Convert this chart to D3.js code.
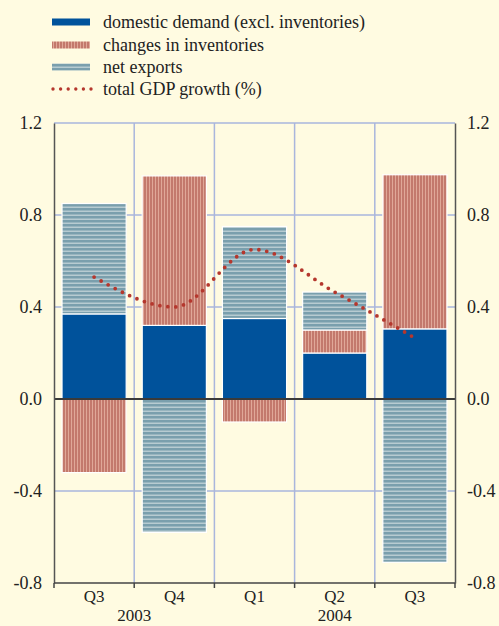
<!DOCTYPE html>
<html><head><meta charset="utf-8">
<script src="https://cdn.jsdelivr.net/npm/d3@7"></script>
<style>
html,body{margin:0;padding:0;background:#fffbe1;}
svg{display:block;font-family:"Liberation Serif","Times New Roman",serif;}
</style></head>
<body>
<svg id="c" width="499" height="626"></svg>
<script>
const quarters = ["Q3","Q4","Q1","Q2","Q3"];
const years = [{label:"2003", at:0.5},{label:"2004", at:3}];
const domestic = [0.37, 0.32, 0.35, 0.20, 0.305];
const inventories = [-0.32, 0.65, -0.10, 0.10, 0.67];
const netExports = [0.48, -0.58, 0.40, 0.165, -0.71];
const gdp = [0.53, 0.40, 0.65, 0.465, 0.265];
const yTicks = [-0.8, -0.4, 0.0, 0.4, 0.8, 1.2];
const legendLabels = ["domestic demand (excl. inventories)","changes in inventories","net exports","total GDP growth (%)"];

const FS = 18;
const svg = d3.select("#c");
const W=499,H=626;
const m = {l:54, r:44, t:123, b:43};
const x = d3.scaleBand().domain(d3.range(quarters.length)).range([m.l, W-m.r]).paddingInner(0.2).paddingOuter(0.1);
const y = d3.scaleLinear().domain([-0.8,1.2]).range([H-m.b, m.t]);
const fmt = v => d3.format(".1f")(v).replace("\u2212","-");

const defs = svg.append("defs");
const pInv = defs.append("pattern").attr("id","inv").attr("patternUnits","userSpaceOnUse").attr("width",3).attr("height",10);
pInv.append("rect").attr("width",3).attr("height",10).attr("fill","#e0a898");
pInv.append("rect").attr("width",2).attr("height",10).attr("fill","#c3796c");
const pNx = defs.append("pattern").attr("id","nx").attr("patternUnits","userSpaceOnUse").attr("width",10).attr("height",4);
pNx.append("rect").attr("width",10).attr("height",4).attr("fill","#b7cbd1");
pNx.append("rect").attr("width",10).attr("height",2.5).attr("fill","#7a9fad");

const colors = {dom:"#00529b", inv:"url(#inv)", nx:"url(#nx)"};

// grid
const grid = svg.append("g");
grid.append("line").attr("x1",m.l).attr("x2",W-m.r).attr("y1",y(1.2)).attr("y2",y(1.2)).attr("stroke","#a9b6dc").attr("stroke-width",1.5);
[0.8,0.4,-0.4].forEach(v=>{
  grid.append("line").attr("x1",m.l).attr("x2",W-m.r).attr("y1",y(v)).attr("y2",y(v)).attr("stroke","#a9b6dc").attr("stroke-width",1.5);
});
const step = x.step();
const bounds = d3.range(1,quarters.length).map(i=> x(i) - x.paddingInner()*step/2);
bounds.forEach(bx=>{
  grid.append("line").attr("x1",bx).attr("x2",bx).attr("y1",y(1.2)).attr("y2",y(-0.8)).attr("stroke","#a9b6dc").attr("stroke-width",1.5);
});

// stacked bars
const bars = svg.append("g");
quarters.forEach((q,i)=>{
  let pos=0, neg=0;
  [["dom",domestic[i]],["inv",inventories[i]],["nx",netExports[i]]].forEach(([k,v])=>{
    let y0,y1;
    if(v>=0){y0=pos; y1=pos+v; pos=y1;} else {y0=neg; y1=neg+v; neg=y1;}
    bars.append("rect").attr("x",x(i)).attr("width",x.bandwidth())
      .attr("y",y(Math.max(y0,y1))).attr("height",Math.abs(y(y0)-y(y1)))
      .attr("fill",colors[k]).attr("stroke","#ffffff").attr("stroke-width",1.2);
  });
});

// zero line
svg.append("line").attr("x1",m.l).attr("x2",W-m.r).attr("y1",y(0)).attr("y2",y(0)).attr("stroke","#3a3a3a").attr("stroke-width",2);

// axes
const axL = svg.append("g").attr("transform",`translate(${m.l},0)`)
  .call(d3.axisLeft(y).tickValues(yTicks).tickFormat(fmt).tickSize(0).tickPadding(12));
const axR = svg.append("g").attr("transform",`translate(${W-m.r},0)`)
  .call(d3.axisRight(y).tickValues(yTicks).tickFormat(fmt).tickSize(0).tickPadding(12));
[axL,axR].forEach(a=>{
  a.select(".domain").attr("stroke","#555").attr("stroke-width",1.5);
  a.selectAll("text").attr("font-size",FS).attr("fill","#222").attr("font-family","Liberation Serif, serif");
});

// bottom axis
const bx = svg.append("g");
bx.append("line").attr("x1",m.l).attr("x2",W-m.r).attr("y1",y(-0.8)).attr("y2",y(-0.8)).attr("stroke","#444").attr("stroke-width",1.5);
[m.l, ...bounds, W-m.r].forEach(t=>{
  bx.append("line").attr("x1",t).attr("x2",t).attr("y1",y(-0.8)).attr("y2",y(-0.8)+5).attr("stroke","#444").attr("stroke-width",1.5);
});
quarters.forEach((q,i)=>{
  bx.append("text").attr("x",x(i)+x.bandwidth()/2).attr("y",602).attr("text-anchor","middle")
    .attr("font-size",17).attr("fill","#222").text(q);
});
years.forEach(yr=>{
  const cx = x(0) + x.bandwidth()/2 + yr.at*step;
  bx.append("text").attr("x",cx).attr("y",621).attr("text-anchor","middle")
    .attr("font-size",17).attr("fill","#222").text(yr.label);
});

// GDP line
const line = d3.line().x((d,i)=>x(i)+x.bandwidth()/2).y(d=>y(d)).curve(d3.curveMonotoneX);
svg.append("path").datum(gdp).attr("d",line).attr("fill","none")
  .attr("stroke","#b5372d").attr("stroke-width",3.8).attr("stroke-linecap","round").attr("stroke-dasharray","0 8");

// legend
const lg = svg.append("g");
const rows = [22,45,67,89];
lg.append("rect").attr("x",52).attr("y",rows[0]-3.5).attr("width",38).attr("height",7).attr("fill",colors.dom);
lg.append("rect").attr("x",52).attr("y",rows[1]-3.5).attr("width",38).attr("height",7).attr("fill",colors.inv);
lg.append("rect").attr("x",52).attr("y",rows[2]-3.5).attr("width",38).attr("height",7).attr("fill",colors.nx);
lg.append("line").attr("x1",53).attr("x2",92).attr("y1",rows[3]).attr("y2",rows[3])
  .attr("stroke","#b5372d").attr("stroke-width",3.4).attr("stroke-linecap","round").attr("stroke-dasharray","0 7.6");
legendLabels.forEach((t,i)=>{
  lg.append("text").attr("x",103).attr("y",rows[i]).attr("dy","0.35em").attr("font-size",FS).attr("fill","#222").text(t);
});
</script>
</body></html>
